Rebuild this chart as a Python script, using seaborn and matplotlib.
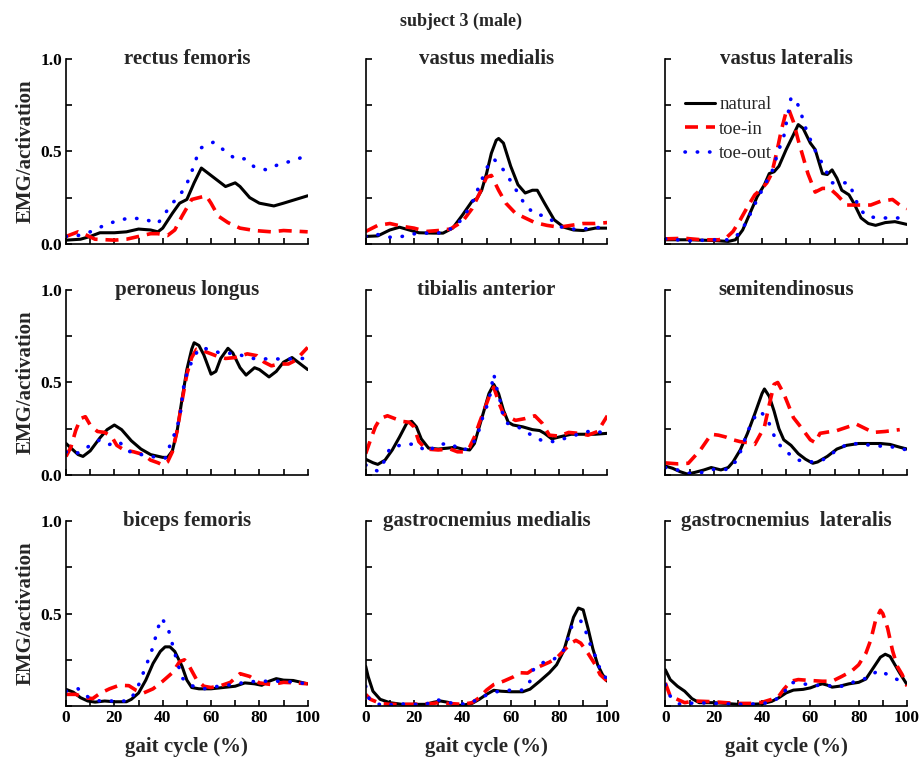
import matplotlib
matplotlib.use("Agg")
import matplotlib.pyplot as plt
import seaborn as sns
from matplotlib.ticker import MultipleLocator

# ---- data (x = gait cycle %, y = EMG / activation) ----

# rectus femoris
rf_nat_x = [0, 6, 10, 14, 20, 25, 30, 35, 38, 40, 44, 47, 50, 53, 56, 58, 62, 66, 70, 72, 76, 80, 86, 90, 95, 100]
rf_nat_y = [0.02, 0.025, 0.04, 0.06, 0.06, 0.065, 0.08, 0.075, 0.065, 0.085, 0.165, 0.22, 0.24, 0.33, 0.41, 0.39,
            0.35, 0.31, 0.33, 0.31, 0.25, 0.22, 0.205, 0.22, 0.24, 0.26]
rf_in_x = [0, 5, 8, 12, 20, 25, 30, 35, 38, 42, 45, 48, 52, 55, 58, 60, 63, 67, 72, 78, 85, 90, 100]
rf_in_y = [0.04, 0.065, 0.05, 0.025, 0.02, 0.025, 0.04, 0.055, 0.055, 0.045, 0.075, 0.15, 0.24, 0.25, 0.26, 0.22,
           0.15, 0.115, 0.085, 0.072, 0.065, 0.072, 0.065]
rf_out_x = [0, 5, 10, 15, 20, 26, 32, 38, 41, 44, 47, 50, 52, 54, 56, 61, 65, 70, 74, 78, 83, 88, 94, 100]
rf_out_y = [0.04, 0.045, 0.065, 0.095, 0.12, 0.14, 0.135, 0.11, 0.165, 0.22, 0.26, 0.325, 0.39, 0.465, 0.52, 0.55,
            0.51, 0.46, 0.46, 0.415, 0.40, 0.43, 0.45, 0.48]

# vastus medialis
vm_nat_x = [0, 5, 10, 14, 18, 22, 28, 32, 36, 40, 44, 46, 48, 50, 52, 54, 55, 57, 60, 63, 66, 69, 71, 74, 78, 82,
            86, 90, 95, 100]
vm_nat_y = [0.04, 0.043, 0.075, 0.09, 0.075, 0.06, 0.058, 0.058, 0.085, 0.155, 0.23, 0.245, 0.29, 0.38, 0.49, 0.56,
            0.57, 0.545, 0.42, 0.32, 0.275, 0.29, 0.29, 0.22, 0.13, 0.09, 0.075, 0.072, 0.085, 0.085]
vm_in_x = [0, 5, 10, 15, 20, 25, 30, 35, 40, 44, 47, 50, 52, 55, 58, 62, 66, 70, 75, 80, 85, 90, 95, 100]
vm_in_y = [0.067, 0.10, 0.11, 0.095, 0.085, 0.067, 0.072, 0.08, 0.12, 0.19, 0.27, 0.36, 0.37, 0.29, 0.22, 0.165,
           0.14, 0.115, 0.10, 0.09, 0.10, 0.11, 0.11, 0.115]
vm_out_x = [0, 5, 10, 15, 20, 25, 30, 36, 40, 44, 48, 50, 53, 57, 60, 63, 66, 70, 75, 80, 85, 90, 95, 100]
vm_out_y = [0.04, 0.05, 0.036, 0.04, 0.054, 0.058, 0.058, 0.085, 0.135, 0.22, 0.345, 0.41, 0.46, 0.40, 0.34, 0.275,
            0.21, 0.16, 0.15, 0.094, 0.08, 0.08, 0.088, 0.088]

# vastus lateralis
vl_nat_x = [0, 10, 20, 26, 29, 32, 35, 38, 41, 43, 45, 47, 50, 53, 55, 57, 60, 62, 65, 67, 69, 71, 73, 76, 78, 81,
            84, 87, 91, 95, 100]
vl_nat_y = [0.022, 0.022, 0.018, 0.013, 0.022, 0.075, 0.165, 0.255, 0.32, 0.38, 0.39, 0.42, 0.51, 0.59, 0.645,
            0.625, 0.545, 0.51, 0.38, 0.375, 0.40, 0.355, 0.29, 0.265, 0.22, 0.14, 0.11, 0.10, 0.115, 0.12, 0.105]
vl_in_x = [0, 8, 15, 22, 25, 28, 31, 34, 37, 40, 42, 44, 46, 48, 50, 51, 53, 55, 57, 59, 62, 65, 68, 71, 75, 80,
           85, 89, 94, 97, 100]
vl_in_y = [0.027, 0.03, 0.022, 0.022, 0.03, 0.067, 0.13, 0.20, 0.265, 0.30, 0.33, 0.38, 0.49, 0.615, 0.715, 0.73,
           0.66, 0.56, 0.47, 0.38, 0.28, 0.30, 0.30, 0.265, 0.21, 0.21, 0.21, 0.23, 0.24, 0.21, 0.19]
vl_out_x = [0, 10, 20, 27, 31, 34, 38, 42, 44, 47, 49, 50, 51, 52, 54, 56, 57.5, 59.5, 61.5, 64.5, 69, 72, 76, 78,
            80, 83, 88, 93, 100]
vl_out_y = [0.027, 0.016, 0.022, 0.022, 0.06, 0.13, 0.24, 0.34, 0.385, 0.51, 0.58, 0.65, 0.72, 0.79, 0.78, 0.715,
            0.645, 0.58, 0.517, 0.445, 0.33, 0.33, 0.33, 0.265, 0.20, 0.15, 0.14, 0.14, 0.14]

# peroneus longus
pl_nat_x = [0, 2.5, 5, 7, 10, 14, 17, 20, 23, 27, 31, 35, 40, 42, 44, 46, 48, 50, 52, 53, 55, 57, 60, 62, 64, 67,
            69, 72, 74.5, 78, 80, 84, 87, 90, 93.5, 97, 100]
pl_nat_y = [0.17, 0.14, 0.11, 0.10, 0.13, 0.20, 0.245, 0.27, 0.245, 0.185, 0.14, 0.11, 0.095, 0.095, 0.13, 0.24,
            0.41, 0.57, 0.68, 0.715, 0.70, 0.65, 0.545, 0.56, 0.63, 0.685, 0.66, 0.58, 0.54, 0.58, 0.57, 0.53, 0.56,
            0.61, 0.635, 0.60, 0.57]
pl_in_x = [0, 2, 4, 6, 8, 10, 13, 16, 19, 21, 24, 28, 32, 35, 38, 40, 42, 44, 46, 48, 50, 52, 54, 57, 60, 63, 66,
           70, 75, 79, 82, 85, 88, 92, 95, 100]
pl_in_y = [0.10, 0.15, 0.24, 0.305, 0.315, 0.27, 0.235, 0.23, 0.205, 0.16, 0.135, 0.125, 0.11, 0.08, 0.066, 0.054,
           0.07, 0.125, 0.24, 0.40, 0.545, 0.635, 0.68, 0.67, 0.655, 0.64, 0.63, 0.635, 0.655, 0.645, 0.61, 0.59,
           0.60, 0.60, 0.62, 0.69]
pl_out_x = [0, 3, 6, 10, 14, 18, 22, 25, 29, 33, 37, 41, 43, 45, 47, 48, 49, 51, 53, 56, 60, 65, 70, 75, 80, 85,
            90, 95, 100]
pl_out_y = [0.125, 0.11, 0.125, 0.16, 0.19, 0.165, 0.18, 0.135, 0.11, 0.11, 0.095, 0.09, 0.16, 0.225, 0.305, 0.41,
            0.51, 0.58, 0.645, 0.69, 0.675, 0.655, 0.66, 0.635, 0.625, 0.63, 0.625, 0.63, 0.63]

# tibialis anterior
ta_nat_x = [0, 3, 5, 8, 11, 14, 17, 19, 21, 23, 26, 30, 34, 37, 40, 43, 45, 47, 49, 51, 53, 55, 57, 59, 61, 65, 69,
            72, 74, 77, 80, 85, 90, 95, 100]
ta_nat_y = [0.085, 0.066, 0.057, 0.08, 0.135, 0.205, 0.28, 0.29, 0.26, 0.195, 0.145, 0.14, 0.145, 0.15, 0.14,
            0.135, 0.17, 0.26, 0.35, 0.44, 0.49, 0.44, 0.35, 0.285, 0.27, 0.26, 0.245, 0.24, 0.225, 0.195, 0.205,
            0.22, 0.22, 0.22, 0.225]
ta_in_x = [0, 2, 4, 6, 9, 12, 15, 18, 20, 22, 25, 30, 35, 38, 41, 43, 45, 47, 49, 51, 53, 55, 57, 59, 62, 66, 70,
           73, 76, 80, 84, 88, 92, 96, 100]
ta_in_y = [0.115, 0.19, 0.26, 0.305, 0.32, 0.305, 0.29, 0.285, 0.26, 0.18, 0.14, 0.135, 0.14, 0.125, 0.125, 0.15,
           0.205, 0.28, 0.35, 0.42, 0.475, 0.395, 0.33, 0.315, 0.295, 0.305, 0.32, 0.28, 0.215, 0.21, 0.23, 0.225,
           0.215, 0.235, 0.32]
ta_out_x = [0, 5, 8, 10, 15.5, 20.5, 25.5, 30, 35, 40, 44, 46.5, 48, 50, 51.5, 53, 54, 55.5, 56.5, 58.5, 63.5,
            68, 73, 78, 83, 88, 93.5, 100]
ta_out_y = [0.054, 0.02, 0.08, 0.145, 0.165, 0.167, 0.125, 0.165, 0.17, 0.13, 0.158, 0.224, 0.295, 0.367, 0.435,
            0.547, 0.48, 0.41, 0.34, 0.28, 0.256, 0.22, 0.185, 0.18, 0.20, 0.22, 0.24, 0.224]

# semitendinosus
st_nat_x = [0, 3, 6, 9, 12, 16, 19, 23, 26, 28, 31, 34, 37, 40, 41, 43, 45, 47, 49, 52, 55, 58, 61, 63, 67, 71, 75,
            80, 85, 89, 93, 97, 100]
st_nat_y = [0.048, 0.036, 0.018, 0.005, 0.013, 0.027, 0.04, 0.027, 0.04, 0.07, 0.135, 0.225, 0.33, 0.44, 0.465,
            0.425, 0.345, 0.25, 0.19, 0.16, 0.115, 0.085, 0.063, 0.07, 0.10, 0.14, 0.16, 0.17, 0.17, 0.17, 0.165,
            0.15, 0.14]
st_in_x = [0, 5, 9.5, 14.5, 19, 22, 25, 28, 31, 34, 37, 41, 43, 45, 46.5, 49, 53, 56, 60, 62, 64, 71, 79, 86, 91,
           97]
st_in_y = [0.065, 0.06, 0.063, 0.135, 0.22, 0.215, 0.205, 0.19, 0.18, 0.175, 0.165, 0.26, 0.38, 0.49, 0.50, 0.44,
           0.31, 0.26, 0.19, 0.175, 0.225, 0.24, 0.275, 0.23, 0.235, 0.245]
st_out_x = [0, 5, 10, 15, 20, 26, 30, 32, 34, 36, 39, 42, 44, 46, 50, 55, 60, 65, 70, 75, 80, 85, 90, 95, 100]
st_out_y = [0.04, 0.027, 0.009, 0.013, 0.03, 0.03, 0.085, 0.16, 0.23, 0.295, 0.345, 0.31, 0.245, 0.18, 0.125,
            0.08, 0.07, 0.08, 0.125, 0.165, 0.17, 0.16, 0.155, 0.15, 0.135]

# biceps femoris
bf_nat_x = [0, 3, 6, 9, 12, 16, 20, 25, 27, 30, 33, 36, 39, 41, 43, 45, 48, 50, 52, 55, 60, 65, 70, 74, 78, 81, 84,
            87, 90, 94, 100]
bf_nat_y = [0.09, 0.075, 0.045, 0.027, 0.021, 0.027, 0.023, 0.023, 0.036, 0.07, 0.14, 0.23, 0.295, 0.32, 0.32,
            0.295, 0.215, 0.14, 0.10, 0.093, 0.093, 0.10, 0.107, 0.125, 0.12, 0.112, 0.134, 0.148, 0.14, 0.138, 0.12]
bf_in_x = [0, 4, 8, 11, 14, 18, 22, 26, 29, 32, 36, 40, 44, 47, 49, 51, 54, 57, 60, 64, 68, 72, 76, 80, 85, 90,
           95, 100]
bf_in_y = [0.063, 0.063, 0.045, 0.04, 0.068, 0.093, 0.112, 0.11, 0.085, 0.07, 0.093, 0.134, 0.18, 0.24, 0.25,
           0.215, 0.143, 0.107, 0.10, 0.11, 0.128, 0.175, 0.16, 0.125, 0.116, 0.128, 0.125, 0.12]
bf_out_x = [0, 5, 9, 14, 20, 26, 29, 31, 33, 35, 36.5, 38, 39.5, 42, 43.5, 45, 46.5, 48, 52, 57, 63, 69, 74, 79,
            85, 90, 95, 100]
bf_out_y = [0.08, 0.093, 0.05, 0.027, 0.027, 0.027, 0.08, 0.146, 0.215, 0.28, 0.345, 0.42, 0.475, 0.43, 0.36,
            0.285, 0.22, 0.152, 0.11, 0.093, 0.107, 0.116, 0.128, 0.134, 0.134, 0.134, 0.128, 0.12]

# gastrocnemius medialis
gm_nat_x = [0, 1, 3, 6, 10, 15, 20, 25, 28, 31, 34, 37, 40, 44, 47, 50, 53, 56, 60, 65, 68, 72, 76, 79, 82, 84, 86,
            88, 90, 92, 94, 96, 98, 100]
gm_nat_y = [0.215, 0.16, 0.08, 0.036, 0.018, 0.009, 0.009, 0.009, 0.02, 0.027, 0.02, 0.004, 0.004, 0.014, 0.036,
            0.063, 0.085, 0.08, 0.077, 0.077, 0.091, 0.134, 0.18, 0.223, 0.30, 0.39, 0.48, 0.53, 0.52, 0.42, 0.31,
            0.223, 0.17, 0.134]
gm_in_x = [0, 2, 6, 10, 20, 28, 31, 34, 40, 44, 47, 50, 53, 57, 61, 64, 67, 69, 72, 76, 79, 82, 85, 87, 89, 92, 95,
           97, 100]
gm_in_y = [0.063, 0.036, 0.014, 0.009, 0.009, 0.014, 0.02, 0.014, 0.009, 0.018, 0.045, 0.086, 0.116, 0.134, 0.157,
           0.18, 0.178, 0.196, 0.214, 0.237, 0.26, 0.30, 0.34, 0.355, 0.34, 0.285, 0.223, 0.17, 0.134]
gm_out_x = [0, 1.5, 7, 13, 20, 25, 29, 33, 38, 43, 49, 54, 60, 65, 68, 69.5, 74, 78, 82.5, 85.5, 89, 91.5, 93, 95,
            97, 100]
gm_out_y = [0.107, 0.036, 0.0, 0.012, 0.009, 0.009, 0.036, 0.023, 0.009, 0.014, 0.054, 0.077, 0.086, 0.086, 0.134,
            0.20, 0.24, 0.254, 0.31, 0.44, 0.46, 0.39, 0.33, 0.27, 0.20, 0.14]

# gastrocnemius lateralis
gl_nat_x = [0, 2, 5, 8, 11, 14, 20, 25, 30, 35, 40, 44, 47, 50, 53, 57, 60, 63, 65, 67, 69, 72, 76, 80, 83, 86, 89,
            91, 93, 95, 97, 100]
gl_nat_y = [0.196, 0.143, 0.107, 0.08, 0.04, 0.018, 0.018, 0.014, 0.009, 0.009, 0.012, 0.025, 0.045, 0.071, 0.086,
            0.09, 0.098, 0.113, 0.12, 0.113, 0.102, 0.107, 0.12, 0.128, 0.146, 0.205, 0.264, 0.28, 0.268, 0.223,
            0.178, 0.116]
gl_in_x = [0, 2, 5, 8, 12, 20, 25, 30, 35, 40, 44, 47, 49, 52, 55, 60, 65, 69, 73, 77, 80, 83, 85, 87, 89, 90, 92,
           94, 96, 98, 100]
gl_in_y = [0.125, 0.054, 0.036, 0.018, 0.027, 0.023, 0.018, 0.014, 0.014, 0.02, 0.036, 0.054, 0.09, 0.134, 0.143,
           0.138, 0.134, 0.134, 0.16, 0.188, 0.223, 0.286, 0.357, 0.464, 0.518, 0.50, 0.42, 0.30, 0.214, 0.17,
           0.107]
gl_out_x = [0, 2, 6, 13, 20, 30, 40, 45, 49, 52, 57, 62, 66, 70, 75, 79, 84, 88, 92, 96, 100]
gl_out_y = [0.116, 0.054, 0.009, 0.018, 0.014, 0.009, 0.012, 0.027, 0.071, 0.128, 0.12, 0.11, 0.116, 0.103, 0.11,
            0.138, 0.152, 0.193, 0.17, 0.143, 0.125]

muscles = ["rectus femoris", "vastus medialis", "vastus lateralis",
           "peroneus longus", "tibialis anterior", "semitendinosus",
           "biceps femoris", "gastrocnemius medialis", "gastrocnemius  lateralis"]
natural = [(rf_nat_x, rf_nat_y), (vm_nat_x, vm_nat_y), (vl_nat_x, vl_nat_y),
           (pl_nat_x, pl_nat_y), (ta_nat_x, ta_nat_y), (st_nat_x, st_nat_y),
           (bf_nat_x, bf_nat_y), (gm_nat_x, gm_nat_y), (gl_nat_x, gl_nat_y)]
toe_in = [(rf_in_x, rf_in_y), (vm_in_x, vm_in_y), (vl_in_x, vl_in_y),
          (pl_in_x, pl_in_y), (ta_in_x, ta_in_y), (st_in_x, st_in_y),
          (bf_in_x, bf_in_y), (gm_in_x, gm_in_y), (gl_in_x, gl_in_y)]
toe_out = [(rf_out_x, rf_out_y), (vm_out_x, vm_out_y), (vl_out_x, vl_out_y),
           (pl_out_x, pl_out_y), (ta_out_x, ta_out_y), (st_out_x, st_out_y),
           (bf_out_x, bf_out_y), (gm_out_x, gm_out_y), (gl_out_x, gl_out_y)]

# ---- style ----
sns.set_style("ticks")
plt.rcParams["font.family"] = ["Liberation Serif", "DejaVu Serif"]
plt.rcParams["font.weight"] = "bold"
plt.rcParams["axes.labelweight"] = "bold"

styles = {
    "natural": dict(color="black", linewidth=2.2, linestyle="-"),
    "toe-in": dict(color="#ff0000", linewidth=2.6, linestyle=(0, (3.6, 2.2))),
    "toe-out": dict(color="#0000ff", linewidth=2.6, linestyle=(0, (0.1, 3.3)), dash_capstyle="round"),
}

fig, axes = plt.subplots(3, 3, figsize=(9.21, 7.63), dpi=100)
fig.subplots_adjust(left=0.0717, right=0.9848, bottom=0.0747, top=0.9227, wspace=0.24, hspace=0.25)

for i, ax in enumerate(axes.flat):
    row, col = divmod(i, 3)
    for name, series in [("natural", natural), ("toe-in", toe_in), ("toe-out", toe_out)]:
        xs, ys = series[i]
        sns.lineplot(x=xs, y=ys, ax=ax, label=name, legend=False, errorbar=None, **styles[name])

    ax.set_xlim(0, 100)
    ax.set_ylim(0, 1.0)
    ax.spines[["top", "right"]].set_visible(False)
    for s in ["left", "bottom"]:
        ax.spines[s].set_linewidth(1.2)
        ax.spines[s].set_color("black")

    ax.xaxis.set_major_locator(MultipleLocator(20))
    ax.xaxis.set_minor_locator(MultipleLocator(10))
    ax.set_yticks([0, 0.5, 1.0])
    ax.yaxis.set_minor_locator(MultipleLocator(0.25))
    if row == 2:
        ax.set_yticklabels(["", "0.5", "1.0"])
    else:
        ax.set_yticklabels(["0.0", "0.5", "1.0"])
    ax.tick_params(which="both", direction="in", length=4, width=1.2, labelsize=12.5, pad=3,
                   color="black", labelcolor="black")
    ax.tick_params(labelleft=(col == 0), labelbottom=(row == 2))

    ax.text(0.5, 1.0, muscles[i], transform=ax.transAxes, ha="center", va="center",
            fontsize=15, fontweight="bold")

    if col == 0:
        ax.set_ylabel("EMG/activation", fontsize=15, fontweight="bold", labelpad=3)
    else:
        ax.set_ylabel("")
    if row == 2:
        ax.set_xlabel("gait cycle (%)", fontsize=15, fontweight="bold", labelpad=8)
    else:
        ax.set_xlabel("")

    if i == 2:
        ax.legend(loc="upper left", bbox_to_anchor=(0.083, 0.80), frameon=False,
                  prop={"family": "Liberation Serif", "weight": "normal", "size": 13.5},
                  handlelength=1.6, handletextpad=0.2, labelspacing=0.4,
                  borderpad=0, borderaxespad=0)

fig.text(0.5, 0.972, "subject 3 (male)", ha="center", va="center", fontsize=13, fontweight="bold")

fig.savefig("out.png", dpi=100)
